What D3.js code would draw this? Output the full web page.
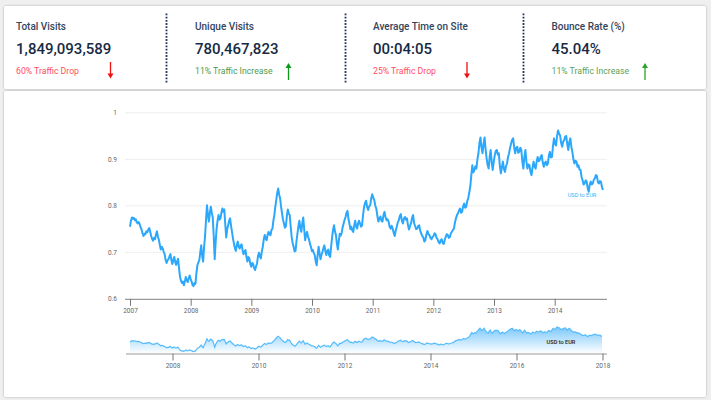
<!DOCTYPE html>
<html><head><meta charset="utf-8">
<script src="https://cdn.jsdelivr.net/npm/d3@7"></script>
<style>html,body{margin:0;padding:0;background:#efefef;overflow:hidden}svg{display:block}text{font-family:Roboto,sans-serif}</style>
</head><body><svg id="c" width="711" height="400"></svg>
<script>
const statTitles=["Total Visits","Unique Visits","Average Time on Site","Bounce Rate (%)"];
const statValues=["1,849,093,589","780,467,823","00:04:05","45.04%"];
const statNotes=["60% Traffic Drop","11% Traffic Increase","25% Traffic Drop","11% Traffic Increase"];
const statDirections=["down","up","down","up"];
const yTicks=[0.6,0.7,0.8,0.9,1];
const mainLabels=["2007","2008","2009","2010","2011","2012","2013","2014"];
const miniTicks=[2008,2010,2012,2014,2016,2018];
const seriesName="USD to EUR";
const usdEurEarly=[.755,.768,.775,.772,.774,.769,.771,.765,.762,.765,.761,.754,.749,.741,.735,.740,.739,.745,.743,.749,.752,.744,.735,.729,.725,.731,.728,.738,.745,.734,.727,.716,.706,.712,.708,.701,.696,.684,.677,.683,.685,.691,.696,.683,.675,.684,.690,.679,.673,.681,.686,.665,.647,.639,.634,.637,.629,.637,.647,.640,.636,.644,.650,.643,.637,.630,.627,.634,.632,.655,.672,.678,.683,.700,.715,.692,.680,.712,.735,.770,.801,.780,.766,.785,.798,.785,.775,.735,.685,.722,.751,.768,.780,.770,.773,.785,.794,.787,.792,.760,.732,.750,.758,.768,.773,.757,.744,.730,.719,.709,.703,.716,.723,.712,.708,.715,.717,.704,.696,.702,.705,.690,.680,.690,.687,.675,.669,.677,.675,.666,.662,.670,.676,.692,.699,.691,.687,.702,.712,.728,.737,.729,.726,.738,.744,.738,.737,.748,.751,.768,.780,.798,.812,.828,.837,.824,.816,.798,.784,.770,.762,.753,.756,.778,.792,.783,.780,.755,.733,.720,.712,.702,.703,.724,.740,.756,.768,.752,.744,.762,.775,.750,.726,.738,.744,.733,.728,.718,.712,.703,.705,.698,.694,.680,.672,.695,.712,.697,.685,.695,.701,.709,.715,.702,.694,.703,.706,.693,.690,.712,.732,.748,.758,.745,.737,.718,.706,.725,.740,.736,.742,.754,.762,.770,.776,.785,.789,.772,.762,.750,.755,.747,.744,.758,.768,.756,.751,.762,.768];
const usdEurLate=[.762,.755,.758,.780,.798,.806,.811,.797,.791,.799,.801,.816,.825,.817,.812,.800,.794,.778,.766,.773,.777,.768,.766,.780,.787,.776,.769,.771,.766,.755,.751,.757,.751,.742,.735,.747,.755,.764,.769,.778,.782,.768,.762,.772,.776,.770,.773,.758,.749,.757,.762,.774,.780,.763,.756,.750,.751,.757,.758,.746,.740,.735,.732,.723,.726,.738,.746,.739,.737,.731,.728,.733,.735,.741,.739,.731,.728,.722,.719,.726,.728,.720,.718,.727,.733,.739,.737,.731,.733,.741,.744,.748,.751,.764,.773,.780,.784,.790,.794,.785,.787,.799,.805,.796,.798,.810,.816,.828,.841,.865,.887,.872,.877,.885,.880,.900,.913,.935,.947,.925,.913,.932,.947,.922,.902,.888,.880,.905,.920,.893,.877,.895,.909,.918,.920,.910,.913,.885,.870,.884,.895,.879,.873,.885,.891,.905,.913,.925,.934,.942,.945,.925,.913,.925,.927,.914,.916,.925,.920,.895,.880,.905,.920,.895,.880,.889,.887,.873,.866,.882,.895,.884,.880,.895,.905,.896,.898,.906,.909,.893,.884,.892,.895,.887,.891,.908,.916,.904,.905,.928,.945,.933,.930,.950,.962,.955,.951,.935,.927,.938,.941,.949,.950,.932,.920,.937,.945,.927,.916,.900,.891,.897,.895,.884,.887,.878,.877,.862,.855,.846,.848,.855,.852,.838,.830,.845,.852,.846,.848,.856,.859,.866,.864,.851,.848,.853,.852,.840,.834];
const usdEur=usdEurEarly.concat(usdEurLate);

const svg=d3.select("#c");
const defs=svg.append("defs");
const sh=defs.append("filter").attr("id","sh").attr("x","-2%").attr("y","-5%").attr("width","104%").attr("height","110%");
sh.append("feDropShadow").attr("dx",0).attr("dy",0).attr("stdDeviation",1.2).attr("flood-color","#000").attr("flood-opacity",.28);
const grad=defs.append("linearGradient").attr("id","g").attr("x1",0).attr("y1",0).attr("x2",0).attr("y2",1);
grad.append("stop").attr("offset",0).attr("stop-color","#7cc8fb");
grad.append("stop").attr("offset",1).attr("stop-color","#ffffff");

svg.append("rect").attr("x",4).attr("y",6).attr("width",702).attr("height",83).attr("rx",2).attr("fill","#fff").attr("filter","url(#sh)");
svg.append("rect").attr("x",4).attr("y",91).attr("width",702).attr("height",306).attr("rx",2).attr("fill","#fff").attr("filter","url(#sh)");

const colX=[16,195,373,551.5], arrowX=[110.5,288.5,467,645], sepX=[166.5,345.5,523.5];
const arrowCol=["#f01010","#0a9a1a","#f01010","#2aa52a"], noteCol=["#ff4d63","#4f9a4f","#ff4d63","#5f9f55"];
const stat=svg.selectAll("g.stat").data(statTitles).join("g").attr("class","stat");
stat.append("text").attr("x",(d,i)=>colX[i]).attr("y",30).attr("font-size",10).attr("font-weight",500).attr("fill","#34445c").text(d=>d);
stat.append("text").attr("x",(d,i)=>colX[i]).attr("y",53.5).attr("font-size",15).attr("font-weight",500).attr("fill","#172a45").text((d,i)=>statValues[i]);
stat.append("text").attr("x",(d,i)=>colX[i]).attr("y",74).attr("font-size",8.7).attr("fill",(d,i)=>noteCol[i]).text((d,i)=>statNotes[i]);
stat.each(function(d,i){
  const g=d3.select(this),x=arrowX[i],up=statDirections[i]==="up";
  const tip=up?63:78.5,end=up?80:62;
  g.append("line").attr("x1",x).attr("x2",x).attr("y1",end).attr("y2",up?tip+4:tip-4).attr("stroke",arrowCol[i]).attr("stroke-width",1.3);
  g.append("path").attr("d",d3.line()([[x-3,up?tip+5:tip-5],[x+3,up?tip+5:tip-5],[x,tip]])+"Z").attr("fill",arrowCol[i]);
});
svg.selectAll("line.sep").data(sepX).join("line").attr("class","sep").attr("x1",d=>d).attr("x2",d=>d).attr("y1",13.5).attr("y2",84)
 .attr("stroke","#1d3557").attr("stroke-width",1.8).attr("stroke-dasharray","1.8 1.4");

const y=d3.scaleLinear().domain([.6,1]).range([298.8,112.8]);
const x=d3.scaleLinear().domain([0,usdEurEarly.length,usdEur.length-1]).range([130,360,603]);
const xLab=d3.scalePoint().domain(mainLabels).range([130,554.7]);
svg.selectAll("line.grid").data(yTicks.slice(1)).join("line").attr("class","grid").attr("x1",125).attr("x2",607).attr("y1",d=>y(d)).attr("y2",d=>y(d)).attr("stroke","#eeeeee").attr("stroke-width",1);
const yAx=svg.append("g").attr("transform","translate(125,0)").call(d3.axisLeft(y).tickValues(yTicks).tickFormat(d3.format("~g")).tickSize(0));
yAx.select(".domain").remove();
yAx.selectAll("text").attr("x",-8).attr("font-size",6.5).attr("fill","#666").attr("font-family","Roboto,sans-serif");
const xAx=svg.append("g").attr("transform","translate(0,298.8)").call(d3.axisBottom(xLab).tickSizeInner(7).tickSizeOuter(0).tickPadding(3));
xAx.select(".domain").attr("d","M125,0.5H607").attr("stroke","#999").attr("stroke-width",1.2);
xAx.selectAll("line").attr("stroke","#777");
xAx.selectAll("text").attr("font-size",6.5).attr("fill","#666").attr("font-family","Roboto,sans-serif");
svg.append("path").attr("d",d3.line().x((d,i)=>x(i)).y(d=>y(d))(usdEur)).attr("fill","none").attr("stroke","#2ba8fb").attr("stroke-width",2).attr("stroke-linejoin","round");
svg.append("text").attr("x",582).attr("y",197).attr("text-anchor","middle").attr("font-size",5.6).attr("fill","#3aaefb").attr("font-family","Roboto,sans-serif").text(seriesName);

const xm=d3.scaleLinear().domain([2007,2018]).range([129.5,602.5]);
const xi=d3.scaleLinear().domain([0,usdEurEarly.length,usdEur.length-1]).range([130,360,602]);
const ym=d3.scaleLinear().domain([.6,1]).range([353.5,324.3]);
svg.append("path").attr("d",d3.area().x((d,i)=>xi(i)).y0(ym(.6)).y1(d=>ym(d))(usdEur)).attr("fill","url(#g)");
svg.append("path").attr("d",d3.line().x((d,i)=>xi(i)).y(d=>ym(d))(usdEur)).attr("fill","none").attr("stroke","#55bcfb").attr("stroke-width",1.2);
const mAx=svg.append("g").attr("transform","translate(0,353.5)").call(d3.axisBottom(xm).tickValues(miniTicks).tickFormat(d3.format("d")).tickSizeInner(7).tickSizeOuter(0).tickPadding(3));
mAx.select(".domain").attr("d","M126,0.5H607").attr("stroke","#999").attr("stroke-width",1.2);
mAx.selectAll("line").attr("stroke","#777");
mAx.selectAll("text").attr("font-size",6.5).attr("fill","#666").attr("font-family","Roboto,sans-serif");
svg.append("text").attr("x",561).attr("y",343.5).attr("text-anchor","middle").attr("font-size",5.6).attr("font-weight",500).attr("fill","#222").attr("font-family","Roboto,sans-serif").text(seriesName);
</script></body></html>
